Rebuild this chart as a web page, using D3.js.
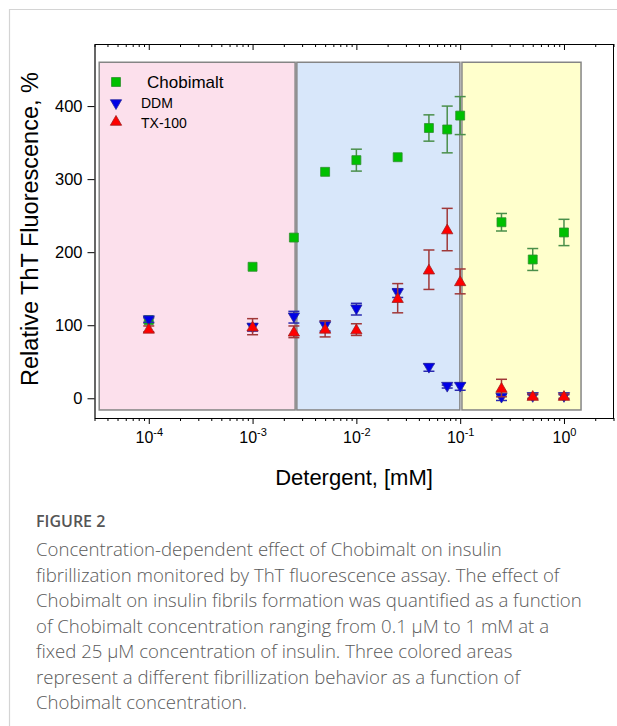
<!DOCTYPE html>
<html>
<head>
<meta charset="utf-8">
<script src="https://cdn.jsdelivr.net/npm/d3@7"></script>
<style>
  body { margin: 0; background: #fff; }
  svg { display: block; }
</style>
</head>
<body>
<script>
// detergent concentrations, mM
const conc = [0.0001, 0.001, 0.0025, 0.005, 0.01, 0.025, 0.05, 0.075, 0.1, 0.25, 0.5, 1.0];

// relative ThT fluorescence, % (value and error)
const chobimalt    = [107, 180, 220, 310, 326, 330, 370, 368, 387, 241, 190, 227];
const chobimaltErr = [4, 0, 0, 0, 15, 0, 18, 32, 26, 12, 15, 18];
const ddm          = [107, 97, 111, 99, 122, 144, 42, 16, 16, 1, 2, 2];
const ddmErr       = [3, 5, 8, 7, 8, 6, 5, 2, 5, 4, 3, 3];
const tx100        = [95, 98, 91, 95, 94, 137, 176, 231, 160, 14, 3, 3];
const tx100Err     = [4, 11, 8, 11, 8, 20, 27, 29, 17, 12, 3, 3];

// shaded behaviour regions [from, to] in mM
const regionX = [[3.33e-5, 0.00257], [0.00267, 0.0993], [0.104, 1.46]];
const regionColors = ["#fce0ec", "#d8e7fa", "#ffffcc"];
const regionY = [-16, 460];

const yTicks = [0, 100, 200, 300, 400];

const captionTitle = "FIGURE 2";
const captionLines = [
  "Concentration-dependent effect of Chobimalt on insulin",
  "fibrillization monitored by ThT fluorescence assay. The effect of",
  "Chobimalt on insulin fibrils formation was quantified as a function",
  "of Chobimalt concentration ranging from 0.1 \u00b5M to 1 mM at a",
  "fixed 25 \u00b5M concentration of insulin. Three colored areas",
  "represent a different fibrillization behavior as a function of",
  "Chobimalt concentration."
];

const width = 617, height = 726;
const font = "'Liberation Sans', Arial, sans-serif";

const svg = d3.select("body").append("svg")
    .attr("width", width)
    .attr("height", height);

// card border
svg.append("path")
    .attr("d", `M9.5,${height} V9.5 H${width}`)
    .attr("fill", "none")
    .attr("stroke", "#d4d4d4")
    .attr("stroke-width", 1.2);

const x = d3.scaleLog().domain([3e-5, 3]).range([94.5, 613.5]);
const y = d3.scaleLinear().domain([-27, 485]).range([418, 44]);

const isMajor = d => Math.abs(Math.log10(d) - Math.round(Math.log10(d))) < 1e-6;

// regions
svg.append("g").selectAll("rect")
    .data(regionX)
    .enter()
    .append("rect")
    .attr("x", d => x(d[0]))
    .attr("y", y(regionY[1]))
    .attr("width", d => x(d[1]) - x(d[0]))
    .attr("height", y(regionY[0]) - y(regionY[1]))
    .attr("fill", (d, i) => regionColors[i])
    .attr("stroke", "#858585")
    .attr("stroke-width", 1.5);

// top axis (ticks inward)
const topAxis = svg.append("g")
    .attr("transform", `translate(0,${y.range()[1]})`)
    .call(d3.axisBottom(x).ticks(10).tickSizeOuter(0).tickFormat(""));
topAxis.selectAll(".tick line").attr("y2", d => isMajor(d) ? 6 : 3);

// bottom axis (ticks outward)
const bottomAxis = svg.append("g")
    .attr("transform", `translate(0,${y.range()[0]})`)
    .call(d3.axisBottom(x).ticks(10).tickSizeOuter(0).tickFormat(""));
bottomAxis.selectAll(".tick line").attr("y2", d => isMajor(d) ? 6 : 3);
bottomAxis.selectAll(".tick").filter(isMajor)
    .append("text")
    .attr("y", 25)
    .attr("fill", "#000")
    .attr("text-anchor", "middle")
    .style("font-family", font)
    .style("font-size", "16px")
    .each(function (d) {
        const t = d3.select(this);
        t.append("tspan").text("10");
        t.append("tspan")
            .attr("dy", -7)
            .style("font-size", "11px")
            .text(Math.round(Math.log10(d)));
    });

// left axis
svg.append("g")
    .attr("transform", `translate(${x.range()[0]},0)`)
    .call(d3.axisLeft(y).tickValues(yTicks).tickSize(7).tickSizeOuter(0).tickPadding(5))
    .selectAll("text")
    .attr("fill", "#000")
    .style("font-family", font)
    .style("font-size", "16.5px");

// right frame line
svg.append("line")
    .attr("x1", x.range()[1]).attr("x2", x.range()[1])
    .attr("y1", y.range()[1]).attr("y2", y.range()[0])
    .attr("stroke", "#000");

svg.selectAll(".domain").attr("stroke", "#000").attr("stroke-width", 1.2);

// series
const series = [
  {name: "Chobimalt", vals: chobimalt, err: chobimaltErr, shape: d3.symbolSquare, size: 80, rot: 0,
   fill: "#00c000", stroke: "#2f8f2f", bar: "#4a8f4a"},
  {name: "DDM", vals: ddm, err: ddmErr, shape: d3.symbolTriangle, size: 55, rot: 180,
   fill: "#0000e6", stroke: "#2a2a9a", bar: "#2a2ab0"},
  {name: "TX-100", vals: tx100, err: tx100Err, shape: d3.symbolTriangle, size: 55, rot: 0,
   fill: "#ff0000", stroke: "#a02020", bar: "#a03838"}
];

series.forEach(s => {
    const pts = conc.map((c, i) => ({c: c, v: s.vals[i], e: s.err[i]}));
    const g = svg.append("g");
    const eb = g.selectAll(".err")
        .data(pts.filter(p => p.e > 0))
        .enter()
        .append("g")
        .attr("stroke", s.bar)
        .attr("stroke-width", 1.5);
    eb.append("line")
        .attr("x1", p => x(p.c)).attr("x2", p => x(p.c))
        .attr("y1", p => y(p.v - p.e)).attr("y2", p => y(p.v + p.e));
    eb.append("line")
        .attr("x1", p => x(p.c) - 5.5).attr("x2", p => x(p.c) + 5.5)
        .attr("y1", p => y(p.v + p.e)).attr("y2", p => y(p.v + p.e));
    eb.append("line")
        .attr("x1", p => x(p.c) - 5.5).attr("x2", p => x(p.c) + 5.5)
        .attr("y1", p => y(p.v - p.e)).attr("y2", p => y(p.v - p.e));

    g.selectAll(".pt")
        .data(pts)
        .enter()
        .append("path")
        .attr("d", d3.symbol(s.shape, s.size))
        .attr("transform", p => `translate(${x(p.c)},${y(p.v) + (s.shape === d3.symbolTriangle ? (s.rot ? -1 : 1) : 0)}) rotate(${s.rot})`)
        .attr("fill", s.fill)
        .attr("stroke", s.stroke)
        .attr("stroke-width", 0.8);
});

// legend
const legend = svg.append("g").attr("transform", "translate(116,0)");
const legendRows = [
  {y: 82, ty: 88, tx: 31, size: "17px"},
  {y: 103, ty: 108, tx: 25, size: "14px"},
  {y: 122, ty: 128, tx: 25, size: "14px"}
];
series.forEach((s, i) => {
    const r = legendRows[i];
    legend.append("path")
        .attr("d", d3.symbol(s.shape, s.size))
        .attr("transform", `translate(0,${r.y}) rotate(${s.rot})`)
        .attr("fill", s.fill)
        .attr("stroke", s.stroke)
        .attr("stroke-width", 0.8);
    legend.append("text")
        .attr("x", r.tx)
        .attr("y", r.ty)
        .style("font-family", font)
        .style("font-size", r.size)
        .text(s.name);
});

// axis titles
svg.append("text")
    .attr("x", 354)
    .attr("y", 485)
    .attr("text-anchor", "middle")
    .style("font-family", font)
    .style("font-size", "22px")
    .text("Detergent, [mM]");

svg.append("text")
    .attr("transform", "translate(38,229) rotate(-90)")
    .attr("text-anchor", "middle")
    .style("font-family", font)
    .style("font-size", "23.5px")
    .text("Relative ThT Fluorescence, %");

// caption
svg.append("text")
    .attr("x", 36)
    .attr("y", 527)
    .attr("fill", "#555")
    .style("font-family", "'Open Sans', sans-serif")
    .style("font-weight", 600)
    .style("font-size", "16px")
    .text(captionTitle);

svg.append("g").selectAll("text")
    .data(captionLines)
    .enter()
    .append("text")
    .attr("x", 36)
    .attr("y", (d, i) => 556 + i * 25.5)
    .attr("fill", "#5a5a5a")
    .style("font-family", "'Open Sans', sans-serif")
    .style("font-weight", 300)
    .style("font-size", "18.6px")
    .text(d => d);
</script>
</body>
</html>
